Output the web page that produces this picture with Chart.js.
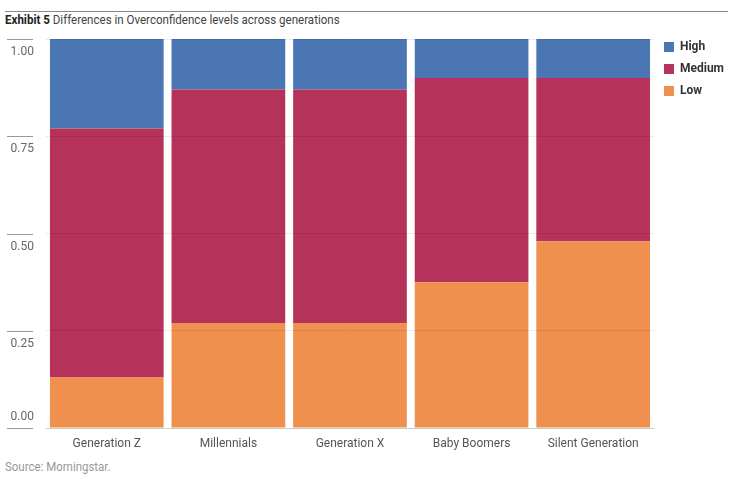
<!DOCTYPE html>
<html>
<head>
<meta charset="utf-8">
<script src="https://cdn.jsdelivr.net/npm/chart.js@4/dist/chart.umd.min.js"></script>
<style>
  body { margin: 0; background: #fff; width: 734px; height: 490px; position: relative; overflow: hidden;
         font-family: Roboto, "Liberation Sans", sans-serif; }
  #rule { position: absolute; left: 5px; top: 11px; width: 723px; border-top: 1px solid #888; }
  #title { position: absolute; left: 5px; top: 12px; font-size: 13px; color: #444; white-space: nowrap;
           transform-origin: 0 0; }
  #title b { color: #222; }
  #source { position: absolute; left: 5px; top: 460px; font-size: 12px; color: #999; transform-origin: 0 0;
            white-space: nowrap; }
  #wrap { position: absolute; left: 0; top: 28px; width: 734px; height: 428px; }
</style>
</head>
<body>
<div id="rule"></div>
<div id="title"><b>Exhibit 5</b> Differences in Overconfidence levels across generations</div>
<div id="wrap"><canvas id="chart"></canvas></div>
<div id="source">Source: Morningstar.</div>
<script>
let generations = ['Generation Z', 'Millennials', 'Generation X', 'Baby Boomers', 'Silent Generation'];
let lowShare = [0.13, 0.27, 0.27, 0.375, 0.48];
let mediumShare = [0.64, 0.60, 0.60, 0.525, 0.42];
let highShare = [0.23, 0.13, 0.13, 0.10, 0.10];
let yTicks = [0, 0.25, 0.5, 0.75, 1];

const fontName = 'Roboto, "Liberation Sans", sans-serif';

// сужаем заголовок и подпись, как в оригинале (узкий шрифт)
function squeeze(id, targetWidth) {
  let el = document.getElementById(id);
  el.style.transform = 'scaleX(' + (targetWidth / el.offsetWidth) + ')';
}
squeeze('title', 335);
squeeze('source', 106);

// подписи оси Y рисуем сами: под линией, а 0.00 над линией
const yLabelsPlugin = {
  id: 'yLabels',
  afterLayout(chart) {
    // легенду поднимаем к верху области графика
    chart.legend.top -= 8;
    chart.legend.bottom -= 8;
  },
  afterDraw(chart) {
    const ctx = chart.ctx;
    const y = chart.scales.y;
    ctx.save();
    ctx.strokeStyle = '#999';
    ctx.lineWidth = 1;
    ctx.fillStyle = '#666';
    ctx.font = '12px ' + fontName;
    ctx.textAlign = 'right';
    ctx.textBaseline = 'middle';
    yTicks.forEach(v => {
      const py = Math.round(y.getPixelForValue(v)) + 0.5;
      ctx.beginPath();
      ctx.moveTo(7, py);
      ctx.lineTo(33, py);
      ctx.stroke();
      ctx.fillText(v.toFixed(2), 34, v === 0 ? py - 12 : py + 12);
    });
    ctx.restore();
  }
};

new Chart(document.getElementById('chart'), {
  type: 'bar',
  data: {
    labels: generations,
    datasets: [
      { label: 'Low', data: lowShare, backgroundColor: '#f0904e' },
      { label: 'Medium', data: mediumShare, backgroundColor: '#b5325a' },
      { label: 'High', data: highShare, backgroundColor: '#4a77b4' }
    ]
  },
  options: {
    responsive: true,
    maintainAspectRatio: false,
    animation: false,
    layout: { padding: { top: 11, right: 0, left: 0, bottom: 0 } },
    datasets: { bar: { barPercentage: 0.935, categoryPercentage: 1 } },
    scales: {
      x: {
        stacked: true,
        grid: { display: false },
        border: { color: '#ddd' },
        ticks: { color: '#555', font: { family: fontName, size: 12 }, padding: 1, maxRotation: 0 },
        afterFit: s => { s.height = 28; }
      },
      y: {
        stacked: true,
        min: 0,
        max: 1,
        grid: { color: 'rgba(0,0,0,0.08)', z: 1, drawTicks: false },
        border: { display: false },
        ticks: { display: false, stepSize: 0.25 },
        afterFit: s => { s.width = 46; }
      }
    },
    plugins: {
      legend: {
        position: 'right',
        align: 'start',
        reverse: true,
        labels: {
          boxWidth: 10,
          boxHeight: 10,
          padding: 10,
          color: '#333',
          font: { family: fontName, size: 12, weight: 'bold' }
        }
      },
      tooltip: { enabled: false }
    }
  },
  plugins: [yLabelsPlugin]
});
</script>
</body>
</html>
